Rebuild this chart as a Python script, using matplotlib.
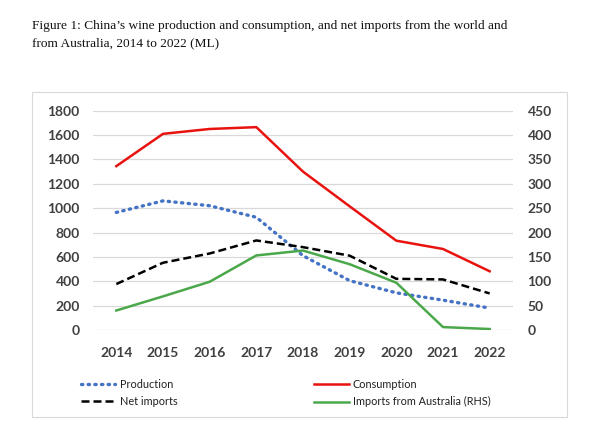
import matplotlib
matplotlib.use("Agg")
import matplotlib.pyplot as plt
from matplotlib.patches import Rectangle
from matplotlib.font_manager import FontProperties

years = [2014, 2015, 2016, 2017, 2018, 2019, 2020, 2021, 2022]
production = [965, 1060, 1020, 925, 610, 405, 305, 245, 180]
consumption = [1345, 1610, 1650, 1665, 1300, 1015, 733, 665, 482]
net_imports = [377, 552, 628, 735, 680, 610, 420, 415, 300]
imports_aus = [40, 69, 99, 153, 163, 135, 97, 6, 2]

title = ("Figure 1: China\u2019s wine production and consumption, and net imports from the world and\n"
         "from Australia, 2014 to 2022 (ML)")

SANS = "Lato"

fig = plt.figure(figsize=(6, 4.3), dpi=100)
fig.patch.set_facecolor("white")

# chart frame
fig.patches.append(Rectangle((32/600, (430-417)/430), (567-32)/600, (417-92)/430,
                             transform=fig.transFigure, fill=False,
                             edgecolor="#d9d9d9", linewidth=0.8))

fig.text(32/600, 1-20/430, title, family="Liberation Serif", fontsize=9.6,
         va="top", ha="left", linespacing=1.55, color="#111111")

ax = fig.add_axes([93/600, 1-330/430, (513-93)/600, (330-110.7)/430])
ax2 = ax.twinx()

x = list(range(len(years)))
l1, = ax.plot(x, production, color="#4472C4", lw=2.4, linestyle=(0, (0.4, 1.6)),
              dash_capstyle="round", label="Production")
l2, = ax.plot(x, consumption, color="#E8130F", lw=1.8, label="Consumption")
l3, = ax.plot(x, net_imports, color="black", lw=1.8, linestyle=(0, (3.2, 1.6)),
              label="Net imports")
l4, = ax2.plot(x, imports_aus, color="#4AA84A", lw=1.8, label="Imports from Australia (RHS)")

ax.set_xlim(-0.5, len(years) - 0.5)
ax.set_ylim(0, 1800)
ax.set_yticks(range(0, 1801, 200))
ax2.set_ylim(0, 450)
ax2.set_yticks(range(0, 451, 50))
ax.set_xticks(x)
ax.set_xticklabels([str(y) for y in years])

ax.grid(axis="y", color="#d9d9d9", lw=0.9)
ax.set_axisbelow(True)
for a in (ax, ax2):
    for s in a.spines.values():
        s.set_visible(False)
    a.tick_params(length=0)
ax.tick_params(axis="y", pad=9.5)
ax.tick_params(axis="x", pad=12)
ax2.tick_params(axis="y", pad=10.5)
fp = FontProperties(family=SANS, weight="bold", size=10)
for lab in ax.get_xticklabels() + ax.get_yticklabels() + ax2.get_yticklabels():
    lab.set_fontproperties(fp)
    lab.set_color("#404040")

leg = fig.legend([l1, l3, l2, l4],
                 ["Production", "Net imports", "Consumption", "Imports from Australia (RHS)"],
                 ncol=2, loc="upper left", bbox_to_anchor=(71/600, 1-369/430),
                 frameon=False, handlelength=3.2, handletextpad=0.4,
                 columnspacing=12.6, labelspacing=0.6,
                 prop=dict(family=SANS, size=7.8))
for t in leg.get_texts():
    t.set_color("#202020")

fig.savefig("out.png", dpi=100)
